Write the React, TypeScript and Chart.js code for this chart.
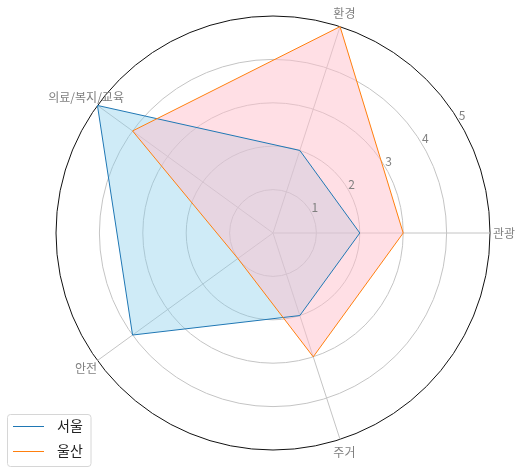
import React, { useEffect, useRef } from "react";
import { Chart, registerables } from "chart.js";

Chart.register(...registerables);

// Categories in clockwise order starting from the right (3 o'clock)
const categories = ["관광", "주거", "안전", "의료/복지/교육", "환경"];
const seoulValues = [2, 2, 4, 5, 2];
const ulsanValues = [3, 3, 1, 4, 5];
const tickValues = [1, 2, 3, 4, 5];
const seriesNames = ["서울", "울산"];

const FONT = '"Noto Sans CJK KR", "Noto Sans", sans-serif';

const overlayPlugin = {
  id: "overlay",
  afterDraw(chart: any) {
    const ctx = chart.ctx;
    const scale = chart.scales.r;
    const cx = scale.xCenter;
    const cy = scale.yCenter;
    ctx.save();
    // point labels
    ctx.font = `12px ${FONT}`;
    ctx.fillStyle = "#808080";
    ctx.textAlign = "center";
    ctx.textBaseline = "middle";
    categories.forEach((lab, i) => {
      const a = scale.getIndexAngle(i) - Math.PI / 2;
      const r = scale.drawingArea + 14;
      ctx.fillText(lab, cx + r * Math.cos(a), cy + r * Math.sin(a));
    });
    // radial tick labels
    const ta = (-32 * Math.PI) / 180;
    tickValues.forEach((v) => {
      const d = scale.getDistanceFromCenterForValue(v) + 6;
      ctx.fillText(String(v), cx + d * Math.cos(ta), cy + d * Math.sin(ta) + 1);
    });
    // legend
    const x0 = 7.5, y0 = 414.5, w = 83.5, h = 52, rad = 3;
    ctx.beginPath();
    ctx.moveTo(x0 + rad, y0);
    ctx.lineTo(x0 + w - rad, y0);
    ctx.arcTo(x0 + w, y0, x0 + w, y0 + rad, rad);
    ctx.lineTo(x0 + w, y0 + h - rad);
    ctx.arcTo(x0 + w, y0 + h, x0 + w - rad, y0 + h, rad);
    ctx.lineTo(x0 + rad, y0 + h);
    ctx.arcTo(x0, y0 + h, x0, y0 + h - rad, rad);
    ctx.lineTo(x0, y0 + rad);
    ctx.arcTo(x0, y0, x0 + rad, y0, rad);
    ctx.closePath();
    ctx.fillStyle = "rgba(255,255,255,0.85)";
    ctx.fill();
    ctx.strokeStyle = "#d6d6d6";
    ctx.lineWidth = 1;
    ctx.stroke();
    const colors = ["#1f77b4", "#ff7f0e"];
    const ys = [426, 451];
    seriesNames.forEach((n, i) => {
      ctx.beginPath();
      ctx.strokeStyle = colors[i];
      ctx.lineWidth = 1;
      ctx.moveTo(13, ys[i] + 0.5);
      ctx.lineTo(44, ys[i] + 0.5);
      ctx.stroke();
      ctx.font = `14px ${FONT}`;
      ctx.fillStyle = "#222";
      ctx.textAlign = "left";
      ctx.textBaseline = "middle";
      ctx.fillText(n, 57, ys[i]);
    });
    ctx.restore();
  },
};

export default function App() {
  const ref = useRef<HTMLCanvasElement | null>(null);
  useEffect(() => {
    if (!ref.current) return;
    const chart = new Chart(ref.current, {
      type: "radar",
      data: {
        labels: categories,
        datasets: [
          {
            label: seriesNames[0],
            data: seoulValues,
            borderColor: "#1f77b4",
            backgroundColor: "rgba(135,206,235,0.4)",
            borderWidth: 1,
            fill: true,
            pointRadius: 0,
            order: 2,
          },
          {
            label: seriesNames[1],
            data: ulsanValues,
            borderColor: "#ff7f0e",
            backgroundColor: "rgba(255,192,203,0.5)",
            borderWidth: 1,
            fill: true,
            pointRadius: 0,
            order: 1,
          },
        ],
      },
      options: {
        responsive: false,
        animation: false,
        layout: { padding: { left: 55, right: 32, top: 16, bottom: 22 } },
        elements: { line: { tension: 0 } },
        plugins: {
          legend: { display: false },
          tooltip: { enabled: false },
          filler: { drawTime: "beforeDatasetsDraw" },
        },
        scales: {
          r: {
            min: 0,
            max: 5,
            startAngle: 90,
            ticks: { display: false, stepSize: 1 },
            pointLabels: { display: false },
            grid: {
              circular: true,
              color: (c: any) => (c.tick && c.tick.value === 5 ? "#111" : "#c4c4c4"),
              lineWidth: 1,
            },
            angleLines: { color: "#c4c4c4", lineWidth: 1 },
          },
        },
      },
      plugins: [overlayPlugin],
    });
    return () => chart.destroy();
  }, []);
  return (
    <canvas
      ref={ref}
      width={523}
      height={473}
      style={{ position: "fixed", left: 0, top: 0, display: "block" }}
    />
  );
}
